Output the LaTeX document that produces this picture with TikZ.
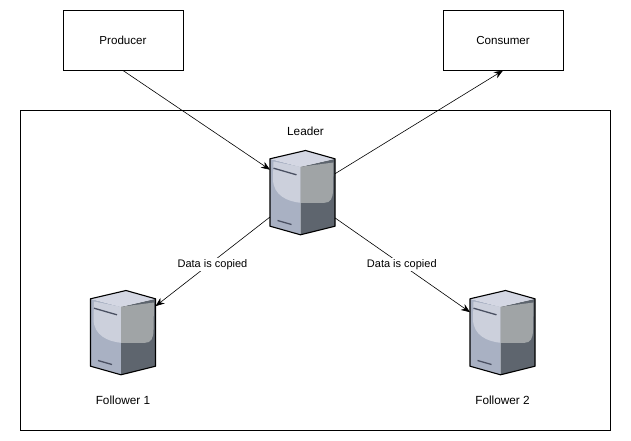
\documentclass[tikz,border=0pt]{standalone}
\usepackage{fontspec}
\setmainfont{Liberation Sans}
\usepackage{tikz}
\usetikzlibrary{arrows.meta, positioning}

\definecolor{srvtop}{HTML}{D4D7E3}
\definecolor{srvlight}{HTML}{CCD0DC}
\definecolor{srvblue}{HTML}{A9B1C3}
\definecolor{srvgrey}{HTML}{A0A4A6}
\definecolor{srvdark}{HTML}{5E656E}
\definecolor{srvbar}{HTML}{4A5062}

\begin{document}
\begin{tikzpicture}[
    x=1pt, y=1pt,
    node distance=55pt and 87pt,
    box/.style={rectangle, draw, minimum width=120pt, minimum height=60pt, inner sep=0pt, outer sep=0pt, font=\fontsize{11.6}{13}\selectfont},
    frame/.style={rectangle, draw, minimum width=590pt, minimum height=320pt, inner sep=0pt, outer sep=0pt},
    server/.style={rectangle, minimum width=65pt, minimum height=85pt, inner sep=0pt, outer sep=0pt},
    caption/.style={font=\fontsize{11.8}{13}\selectfont, inner sep=0pt},
    edgelabel/.style={fill=white, font=\fontsize{11}{12}\selectfont, inner sep=1.5pt},
    arrow/.style={-{Stealth[length=9pt, width=7pt]}, semithick},
    srvbox/.pic={
        \begin{scope}[yscale=-1]
        \fill[srvblue] (-32.5,-33.7) -- (-2,-25.7) -- (-2,42.3) -- (-32.5,33.7) -- cycle;
        \fill[srvdark] (32.5,-33.7) -- (-2,-25.7) -- (-2,42.3) -- (32.5,33.7) -- cycle;
        \fill[srvtop] (3,-42) -- (32.5,-33.7) -- (-2,-25.7) -- (-32.5,-33.7) -- cycle;
        \fill[srvlight] (-29,-31) -- (-2,-25.7) -- (-2,10.3) .. controls (-15,9) and (-29,3) .. (-29.5,-13) -- cycle;
        \fill[srvgrey] (-2,-25.7) -- (31,-30) -- (30.5,-3) .. controls (30.5,6) and (28,10.3) .. (22,10.3) -- (-2,10.3) -- cycle;
        \draw[srvbar, line width=1.3pt] (-29,-24.3) -- (-6,-17.7);
        \draw[srvbar, line width=1.3pt] (-25,28) -- (-11,32);
        \draw[line width=1.1pt, line join=round] (3,-42) -- (32.5,-33.7) -- (32.5,33.7) -- (-2,42.3) -- (-32.5,33.7) -- (-32.5,-33.7) -- cycle;
        \end{scope}
    }
]

    \useasboundingbox (0,0) rectangle (631,-441);
    \fill[white] (0,0) rectangle (631,-441);

    % Outer frame
    \node[frame] (cluster) at (315,-270.5) {};

    % Top row: client boxes
    \node[box] (producer) at (123,-40.5) {Producer};
    \node[box, right=260pt of producer] (consumer) {Consumer};

    % Servers (placed relative to each other)
    \node[server, below right=79.5pt and 87pt of producer] (leader) {};
    \node[server, below left=55pt and 114.5pt of leader] (follower1) {};
    \node[server, below right=55pt and 135pt of leader] (follower2) {};

    \foreach \srv in {leader, follower1, follower2} {
        \pic at (\srv) {srvbox};
    }

    % Captions
    \node[caption, above=14.5pt of leader, xshift=3pt] (leadername) {Leader};
    \node[caption, below=20.5pt of follower1] (follower1name) {Follower 1};
    \node[caption, below=20.5pt of follower2] (follower2name) {Follower 2};

    % Connections
    \draw[arrow] (producer.south) -- (leader.145);
    \draw[arrow] (leader.30) -- (consumer.south);
    \draw[arrow] (leader.217.6) -- node[edgelabel, pos=0.52, xshift=2pt, yshift=-1pt] {Data is copied} (follower1.39.7);
    \draw[arrow] (leader.322.4) -- node[edgelabel, pos=0.48, xshift=2pt, yshift=-1pt] {Data is copied} (follower2.148.4);

\end{tikzpicture}
\end{document}
